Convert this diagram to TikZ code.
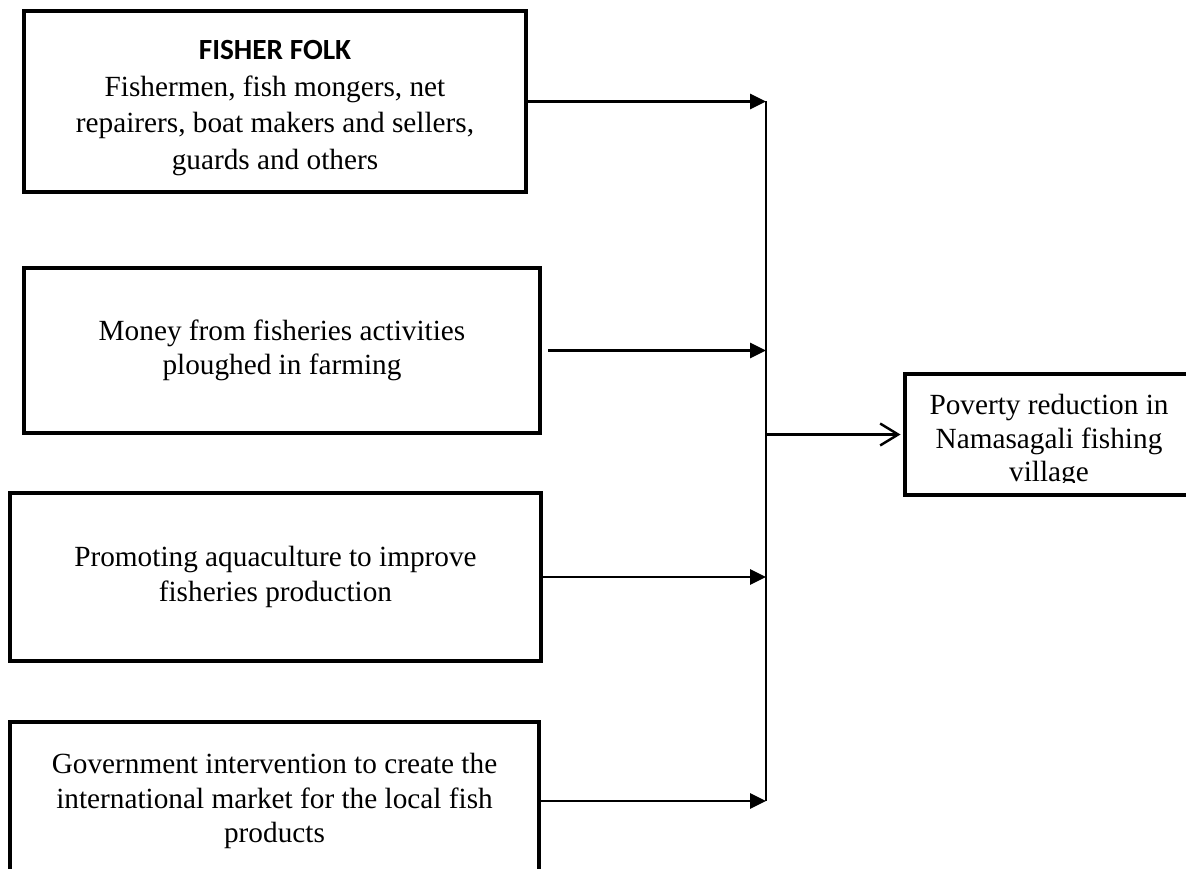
\documentclass[tikz,border=0pt]{standalone}
\usepackage{fontspec}
\setmainfont{Liberation Serif}
\newfontfamily\headfont{Carlito}
\usetikzlibrary{arrows.meta}

\begin{document}
\begin{tikzpicture}[
  x=0.41pt, y=-0.41pt,
  every node/.style={draw, line width=1.65pt, inner sep=0pt, align=center,
    font=\fontsize{12}{14}\selectfont},
  feed/.style={line width=1pt, -{Triangle[length=6.5pt,width=6.2pt]}},
  bus/.style={line width=0.8pt}
]
\useasboundingbox (0,0) rectangle (1186,869);
\clip (0,0) rectangle (1186,869);

% factor boxes on the left
\node[minimum width=205.8pt, minimum height=74.2pt, font=\fontsize{12}{15}\selectfont] (fisher) at (275,101.5)
  {\rule{0pt}{13.1pt}{\headfont\bfseries FISHER FOLK}\\ Fishermen, fish mongers, net\\ repairers, boat makers and sellers,\\ guards and others};
\node[minimum width=211.6pt, minimum height=67.7pt] (money) at (282,350.5)
  {Money from fisheries activities\\ ploughed in farming};
\node[minimum width=217.7pt, minimum height=68.9pt] (aqua) at (275.5,577)
  {Promoting aquaculture to improve\\ fisheries production};
\node[minimum width=216.9pt, minimum height=64.8pt] (gov) at (274.5,801)
  {Government intervention to create the\\ international market for the local fish\\ products};

% outcome box, text runs past its lower edge
\node[minimum width=118.1pt, minimum height=49.6pt] (pov) at (1049,434.5) {};
\begin{scope}
  \clip (pov.north west) rectangle (1193,483);
  \node[draw=none, font=\fontsize{12}{13.7}\selectfont, yshift=-2.7pt] (povtext) at (pov.center)
    {Poverty reduction in\\ Namasagali fishing\\ village};
\end{scope}

\coordinate (bus) at (766,0);
\draw[bus] (fisher.east -| bus) -- (gov.east -| bus);
\draw[feed] (fisher.east) -- (fisher.east -| bus);
\draw[feed, shorten <=2.5pt] (money.east) -- (money.east -| bus);
\draw[feed] (aqua.east) -- (aqua.east -| bus);
\draw[feed, line width=0.85pt] (gov.east) -- (gov.east -| bus);
\draw[line width=1pt, -{Straight Barb[length=7.4pt,width=9pt]}, shorten >=1pt] (bus |- pov.west) -- (pov.west);
\end{tikzpicture}
\end{document}
